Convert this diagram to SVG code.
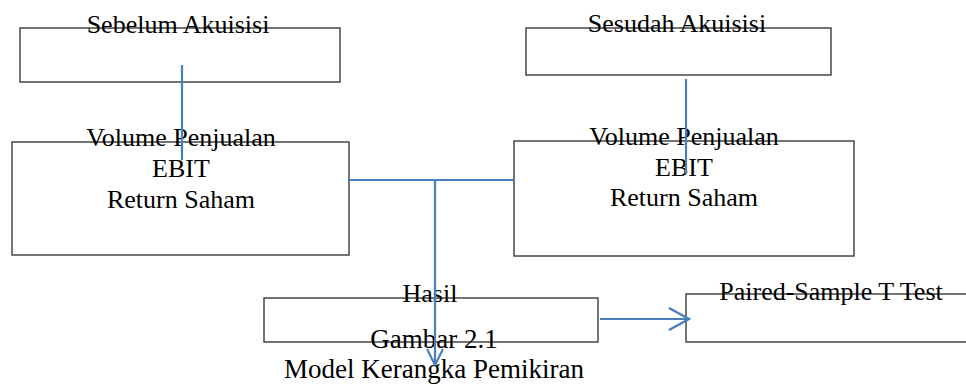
<svg xmlns="http://www.w3.org/2000/svg" width="966" height="385" viewBox="0 0 966 385">
<style>
.box{fill:#ffffff;stroke:#3a3a3a;stroke-width:1.4}
.t{font-family:"Liberation Serif","Times New Roman",serif;font-size:26px;fill:#000;text-anchor:middle}
.cap{font-size:27px}
.con{fill:none;stroke:#4a7ebb;stroke-width:2.2}
</style>
<defs>
<marker id="arr" viewBox="0 0 20 20" refX="18" refY="10" markerWidth="20" markerHeight="20" markerUnits="userSpaceOnUse" orient="auto">
<path d="M2,2 L18,10 L2,18" fill="none" stroke="#4a7ebb" stroke-width="2.2"/>
</marker>
<marker id="arr2" viewBox="0 0 24 24" refX="22" refY="12" markerWidth="24" markerHeight="24" markerUnits="userSpaceOnUse" orient="auto">
<path d="M2,1 L22,12 L2,23" fill="none" stroke="#4a7ebb" stroke-width="2.4"/>
</marker>
</defs>
<rect width="966" height="385" fill="#ffffff"/>
<g id="sebelum">
<rect class="box" x="20" y="28" width="320" height="54"/>
<text class="t" x="178" y="33">Sebelum Akuisisi</text>
</g>
<g id="variabel-sebelum">
<rect class="box" x="12" y="142" width="337" height="113"/>
<text class="t" x="181" y="146">Volume Penjualan</text>
<text class="t" x="181" y="177">EBIT</text>
<text class="t" x="181" y="208">Return Saham</text>
</g>
<g id="sesudah">
<rect class="box" x="526" y="28" width="305" height="47"/>
<text class="t" x="677" y="32">Sesudah Akuisisi</text>
</g>
<g id="variabel-sesudah">
<rect class="box" x="514" y="141" width="340" height="115"/>
<text class="t" x="684" y="145">Volume Penjualan</text>
<text class="t" x="684" y="176">EBIT</text>
<text class="t" x="684" y="206">Return Saham</text>
</g>
<g id="hasil">
<rect class="box" x="264" y="298" width="334" height="44"/>
<text class="t" x="430" y="302">Hasil</text>
</g>
<g id="paired">
<rect class="box" x="686" y="294" width="300" height="48"/>
<text class="t" x="831" y="300">Paired-Sample T Test</text>
</g>
<g id="caption">
<text class="t cap" x="434" y="348">Gambar 2.1</text>
<text class="t cap" x="434" y="378">Model Kerangka Pemikiran</text>
</g>
<g id="connectors">
<line class="con" x1="182" y1="65" x2="182" y2="160"/>
<line class="con" x1="686" y1="79" x2="686" y2="174"/>
<line class="con" x1="349" y1="180" x2="514" y2="180"/>
<line class="con" x1="435" y1="180" x2="435" y2="365" marker-end="url(#arr)"/>
<line class="con" x1="600" y1="319" x2="689" y2="319" marker-end="url(#arr2)"/>
</g>
</svg>
